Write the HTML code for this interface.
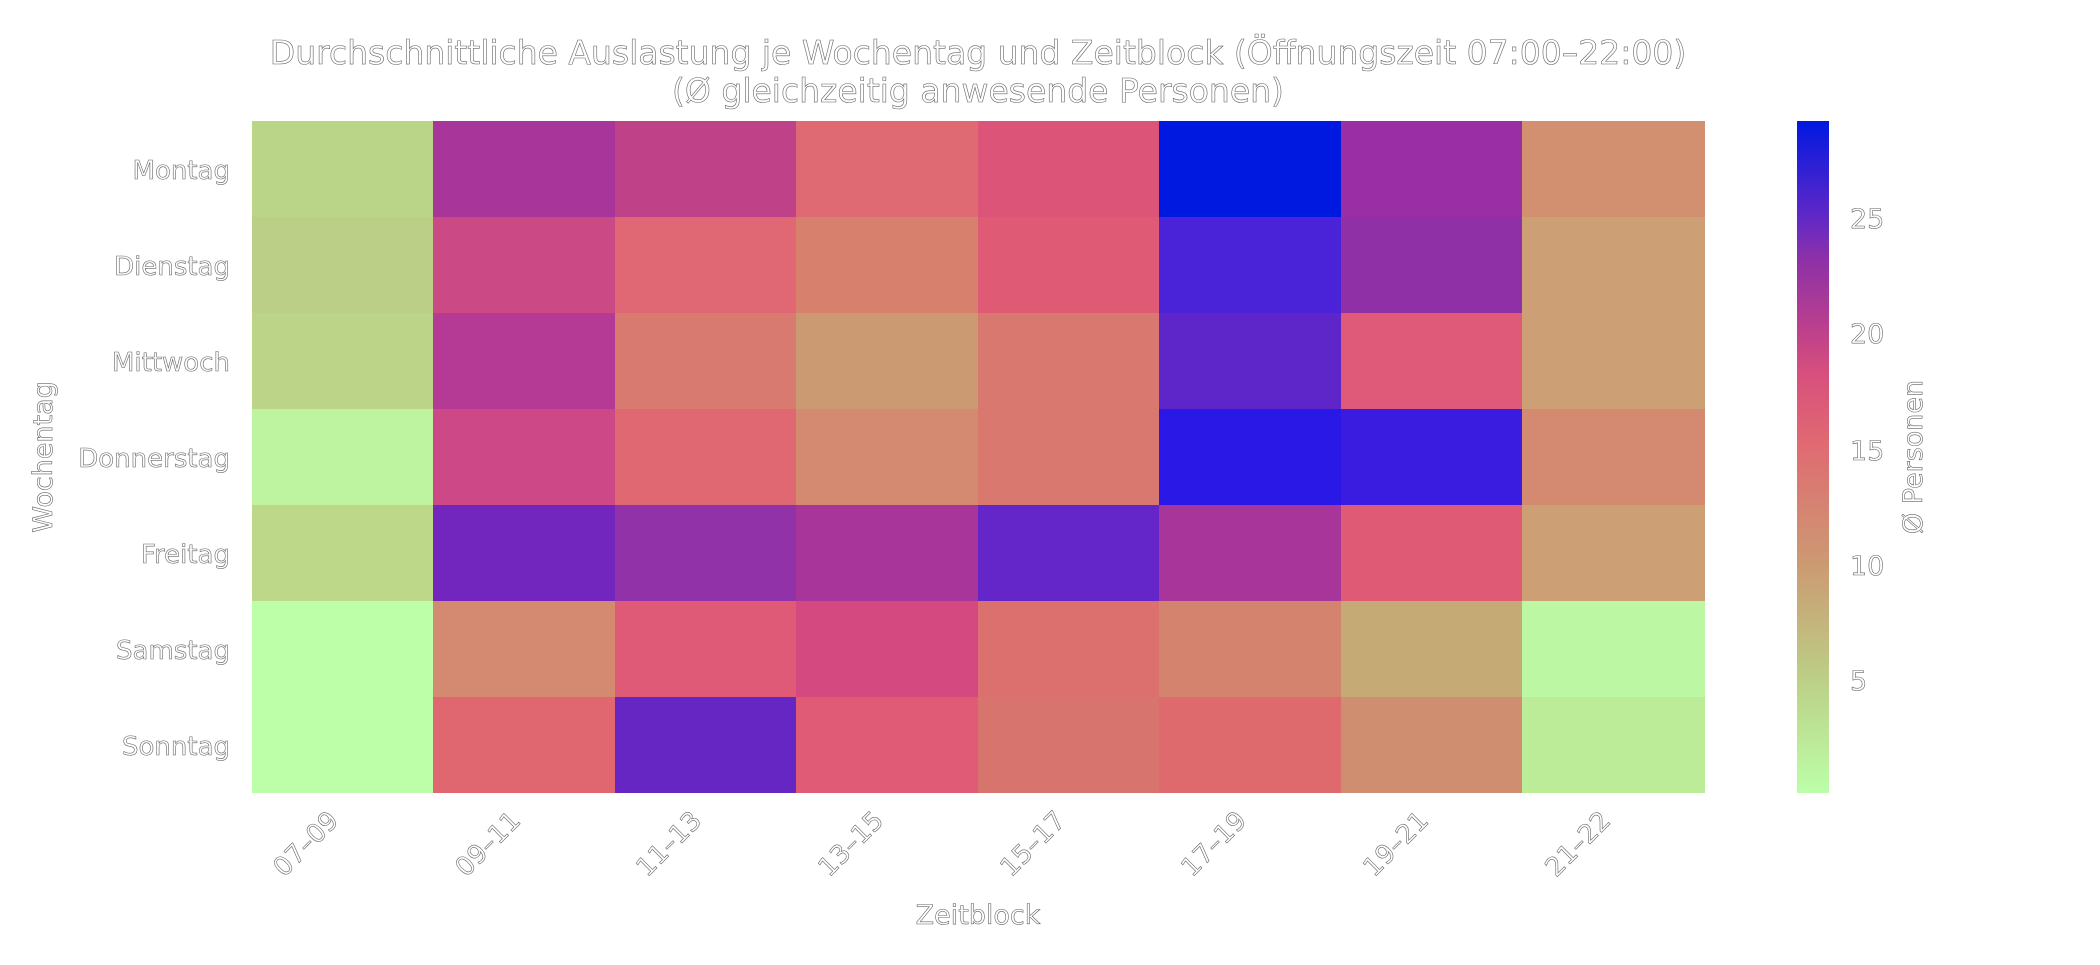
<!DOCTYPE html>
<html><head><meta charset="utf-8"><style>
html,body{margin:0;padding:0;background:#fff;}
svg text{font-family:"DejaVu Sans","Liberation Sans",sans-serif;fill:#fff;stroke:#666;stroke-width:0.6px;}
</style></head><body>
<svg width="2100" height="960" xmlns="http://www.w3.org/2000/svg">
<defs>
<linearGradient id="cb" x1="0" y1="1" x2="0" y2="0">
<stop offset="0" stop-color="#bcffa8"/>
<stop offset="0.17" stop-color="#bccf86"/>
<stop offset="0.34" stop-color="#cc9a72"/>
<stop offset="0.52" stop-color="#e06a72"/>
<stop offset="0.62" stop-color="#d8507c"/>
<stop offset="0.69" stop-color="#bc408c"/>
<stop offset="0.80" stop-color="#8a30aa"/>
<stop offset="0.86" stop-color="#5e28c8"/>
<stop offset="1" stop-color="#0018e0"/>
</linearGradient>
</defs>
<text x="978" y="64" font-size="33" text-anchor="middle">Durchschnittliche Auslastung je Wochentag und Zeitblock (Öffnungszeit 07:00–22:00)</text>
<text x="978" y="102" font-size="33" text-anchor="middle">(Ø gleichzeitig anwesende Personen)</text>
<rect x="1797" y="121" width="32" height="672" fill="url(#cb)"/>
<g font-size="27">
<text x="1850" y="228">25</text>
<text x="1850" y="343">20</text>
<text x="1850" y="460">15</text>
<text x="1850" y="575">10</text>
<text x="1850" y="690">5</text>
</g>
<text font-size="27" transform="translate(1922,457) rotate(-90)" text-anchor="middle">Ø Personen</text>
<text font-size="27" transform="translate(52,457) rotate(-90)" text-anchor="middle">Wochentag</text>
<text font-size="27" x="978" y="924" text-anchor="middle">Zeitblock</text>
<g font-size="26" text-anchor="end">
<text x="230" y="179">Montag</text>
<text x="230" y="275">Dienstag</text>
<text x="230" y="371">Mittwoch</text>
<text x="230" y="467">Donnerstag</text>
<text x="230" y="563">Freitag</text>
<text x="230" y="659">Samstag</text>
<text x="230" y="755">Sonntag</text>
</g>
<g font-size="26" text-anchor="end">
<text transform="translate(340,822) rotate(-45)">07–09</text>
<text transform="translate(522,822) rotate(-45)">09–11</text>
<text transform="translate(703,822) rotate(-45)">11–13</text>
<text transform="translate(885,822) rotate(-45)">13–15</text>
<text transform="translate(1067,822) rotate(-45)">15–17</text>
<text transform="translate(1248,822) rotate(-45)">17–19</text>
<text transform="translate(1430,822) rotate(-45)">19–21</text>
<text transform="translate(1612,822) rotate(-45)">21–22</text>
</g>
<g>
<rect x="252" y="121" width="182" height="97" fill="#bad488"/>
<rect x="433" y="121" width="183" height="97" fill="#a8369a"/>
<rect x="615" y="121" width="182" height="97" fill="#bf4289"/>
<rect x="796" y="121" width="183" height="97" fill="#e06a74"/>
<rect x="978" y="121" width="182" height="97" fill="#dc5478"/>
<rect x="1159" y="121" width="183" height="97" fill="#0019e0"/>
<rect x="1341" y="121" width="182" height="97" fill="#9a2ea4"/>
<rect x="1522" y="121" width="183" height="97" fill="#d29070"/>
<rect x="252" y="217" width="182" height="97" fill="#bccf86"/>
<rect x="433" y="217" width="183" height="97" fill="#cb4a86"/>
<rect x="615" y="217" width="182" height="97" fill="#e06874"/>
<rect x="796" y="217" width="183" height="97" fill="#d8806e"/>
<rect x="978" y="217" width="182" height="97" fill="#df5a74"/>
<rect x="1159" y="217" width="183" height="97" fill="#4a22d8"/>
<rect x="1341" y="217" width="182" height="97" fill="#9030a6"/>
<rect x="1522" y="217" width="183" height="97" fill="#cca074"/>
<rect x="252" y="313" width="182" height="97" fill="#bcd488"/>
<rect x="433" y="313" width="183" height="97" fill="#b43a96"/>
<rect x="615" y="313" width="182" height="97" fill="#d87a70"/>
<rect x="796" y="313" width="183" height="97" fill="#cc9a72"/>
<rect x="978" y="313" width="182" height="97" fill="#d8786e"/>
<rect x="1159" y="313" width="183" height="97" fill="#5e26c8"/>
<rect x="1341" y="313" width="182" height="97" fill="#df5a78"/>
<rect x="1522" y="313" width="183" height="97" fill="#cca074"/>
<rect x="252" y="409" width="182" height="97" fill="#bef4a0"/>
<rect x="433" y="409" width="183" height="97" fill="#cc4886"/>
<rect x="615" y="409" width="182" height="97" fill="#e06872"/>
<rect x="796" y="409" width="183" height="97" fill="#d48a70"/>
<rect x="978" y="409" width="182" height="97" fill="#d8786e"/>
<rect x="1159" y="409" width="183" height="97" fill="#2a18e6"/>
<rect x="1341" y="409" width="182" height="97" fill="#3a1ce0"/>
<rect x="1522" y="409" width="183" height="97" fill="#d48a70"/>
<rect x="252" y="505" width="182" height="97" fill="#bcd888"/>
<rect x="433" y="505" width="183" height="97" fill="#7226be"/>
<rect x="615" y="505" width="182" height="97" fill="#9232a8"/>
<rect x="796" y="505" width="183" height="97" fill="#a8369a"/>
<rect x="978" y="505" width="182" height="97" fill="#6426c8"/>
<rect x="1159" y="505" width="183" height="97" fill="#a8369a"/>
<rect x="1341" y="505" width="182" height="97" fill="#df5a74"/>
<rect x="1522" y="505" width="183" height="97" fill="#cca074"/>
<rect x="252" y="601" width="182" height="97" fill="#bcffa8"/>
<rect x="433" y="601" width="183" height="97" fill="#d48a70"/>
<rect x="615" y="601" width="182" height="97" fill="#df5a76"/>
<rect x="796" y="601" width="183" height="97" fill="#d44a80"/>
<rect x="978" y="601" width="182" height="97" fill="#dc706e"/>
<rect x="1159" y="601" width="183" height="97" fill="#d4846e"/>
<rect x="1341" y="601" width="182" height="97" fill="#c6aa76"/>
<rect x="1522" y="601" width="183" height="97" fill="#bcf8a4"/>
<rect x="252" y="697" width="182" height="96" fill="#bcffa8"/>
<rect x="433" y="697" width="183" height="96" fill="#e0666f"/>
<rect x="615" y="697" width="182" height="96" fill="#6626c4"/>
<rect x="796" y="697" width="183" height="96" fill="#e05c76"/>
<rect x="978" y="697" width="182" height="96" fill="#d8746e"/>
<rect x="1159" y="697" width="183" height="96" fill="#df6a6e"/>
<rect x="1341" y="697" width="182" height="96" fill="#d08e70"/>
<rect x="1522" y="697" width="183" height="96" fill="#bcec98"/>
</g>
</svg>
</body></html>
